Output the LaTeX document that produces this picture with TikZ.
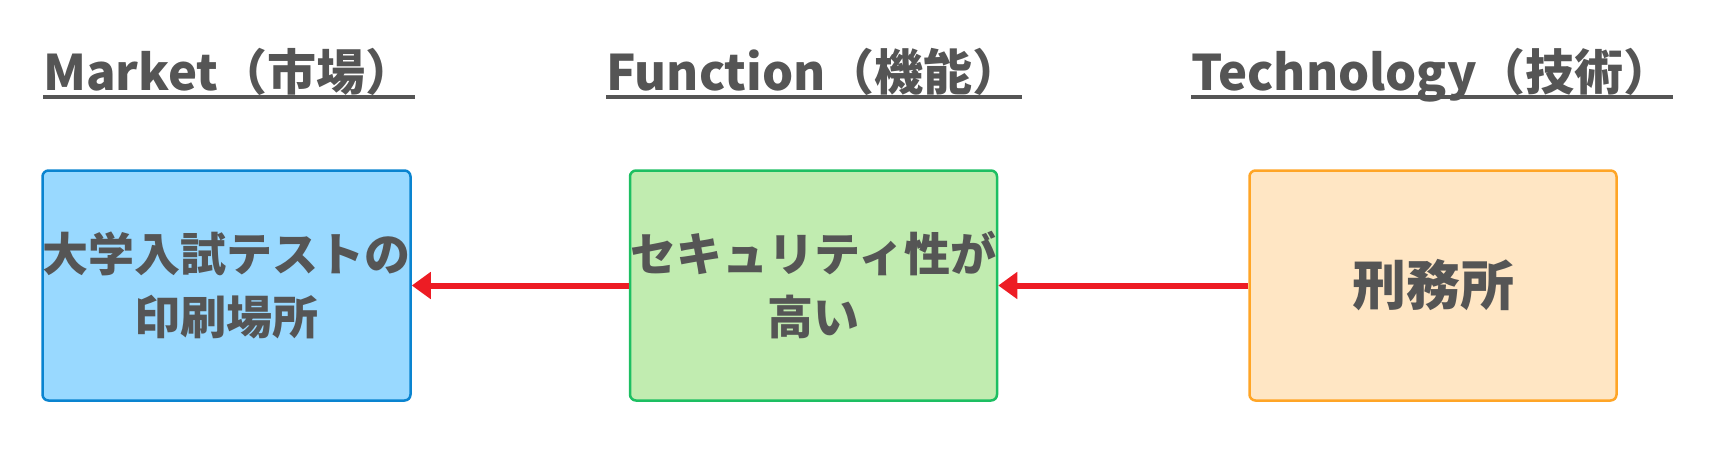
\documentclass[tikz,border=0pt]{standalone}
\usepackage{fontspec}
\setmainfont{Noto Sans CJK JP}
\usetikzlibrary{arrows.meta}
\definecolor{txtgray}{HTML}{555555}
\definecolor{mktfill}{HTML}{99D9FF}
\definecolor{mktline}{HTML}{0A84D0}
\definecolor{funfill}{HTML}{C1ECB0}
\definecolor{funline}{HTML}{1DBF62}
\definecolor{tecfill}{HTML}{FFE6C4}
\definecolor{tecline}{HTML}{FFA526}
\definecolor{arrred}{HTML}{ED1C24}
\begin{document}
\begin{tikzpicture}[x=1pt,y=-1pt,
    head/.style={inner sep=0pt,anchor=base west,text=txtgray,
      font=\fontsize{49}{60}\selectfont\bfseries},
    card/.style={draw,rounded corners=6pt,line width=2.5pt,
      minimum width=367pt,minimum height=230pt,inner sep=0pt,
      align=center,text=txtgray},
    link/.style={draw=arrred,line width=6pt,
      -{Triangle[length=19pt,width=26pt]}}]
      \useasboundingbox (0,0) rectangle (1720,458);
      % headings
      \node[head] (hm) at (43,90) {Market（市場）};
      \node[head] (hf) at (606,90) {Function（機能）};
      \node[head] (ht) at (1191,90) {Technology（技術）};
      \foreach \h in {hm,hf,ht}
        \draw [txtgray,line width=4pt] (\h.base west)+(0,7) -- ([yshift=-7pt]\h.base east);
      % cards
      \node[card,fill=mktfill,draw=mktline,
        font=\fontsize{46}{63}\selectfont\bfseries] (mkt) at (226.5,285.5)
        {大学入試テストの\\印刷場所};
      \node[card,fill=funfill,draw=funline,
        font=\fontsize{46}{63}\selectfont\bfseries] (fun) at (813.5,285.5)
        {セキュリティ性が\\高い};
      \node[card,fill=tecfill,draw=tecline,
        font=\fontsize{54}{60}\selectfont\bfseries] (tec) at (1433,285.5) {刑務所};
      % arrows
      \draw [link] (fun.west) -- (mkt.east);
      \draw [link] (tec.west) -- (fun.east);
\end{tikzpicture}
\end{document}
